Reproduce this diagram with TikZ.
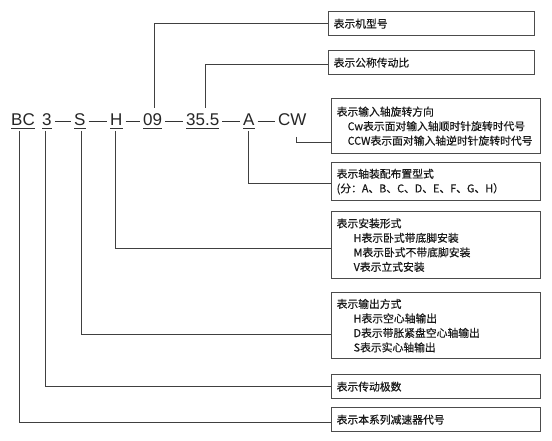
\documentclass[tikz,border=0pt]{standalone}
\usepackage{fontspec}
\setmainfont{Liberation Sans}
\newfontfamily\cjk[FakeBold=0.35]{Noto Sans CJK SC}
\begin{document}
\begin{tikzpicture}[x=1pt,y=-1pt,
  code/.style={anchor=base west, inner sep=0pt, font=\fontsize{17}{17}\selectfont, text=black!85},
  box/.style={draw=black!70, line width=1.3pt, anchor=north west, inner xsep=5pt, inner ysep=0pt,
    align=left, font=\cjk\fontsize{10.8}{14.5}\selectfont, text=black!90},
  conn/.style={draw=black!75, line width=1pt},
  uline/.style={draw=black!80, line width=0.9pt},
  dashln/.style={draw=black!80, line width=1.2pt}]
\useasboundingbox[fill=white] (0,0) rectangle (552,441);

% code row
\node[code] (bc)   at (11,126)  {BC};
\node[code] (n3)   at (42,126)  {3};
\node[code] (s)    at (74,126)  {S};
\node[code] (h)    at (110,126) {H};
\node[code] (n09)  at (143,126) {09};
\node[code] (n355) at (186,126) {35.5};
\node[code] (a)    at (243,126) {A};
\node[code] (cw)   at (278,126) {CW};

\foreach \n in {bc,n3,s,h,n09,n355,a}
  \draw[uline] ([yshift=-2.5pt]\n.base west) -- ([yshift=-2.5pt]\n.base east);

\foreach \p/\q in {n3/s,s/h,h/n09,n09/n355,n355/a,a/cw}
  \draw[dashln] ([xshift=3pt,yshift=4.5pt]\p.base east) -- ([xshift=-3pt,yshift=4.5pt]\q.base west);

% boxes
\node[box, text width=196pt, minimum height=24pt] (b1) at (328,11) {表示机型号};
\node[box, text width=196pt, minimum height=24pt] (b2) at (328,50) {表示公称传动比};
\node[box, text width=199pt, minimum height=55pt] (b3) at (331,98)
  {表示输入轴旋转方向\\\hspace*{11pt}Cw表示面对输入轴顺时针旋转时代号\\\hspace*{11pt}CCW表示面对输入轴逆时针旋转时代号};
\node[box, text width=199pt, minimum height=38pt] (b4) at (331,162)
  {表示轴装配布置型式\\(分：A、B、C、D、E、F、G、H）};
\node[box, text width=199pt, minimum height=67pt] (b5) at (331,211)
  {表示安装形式\\\hspace*{17pt}H表示卧式带底脚安装\\\hspace*{17pt}M表示卧式不带底脚安装\\\hspace*{17pt}V表示立式安装};
\node[box, text width=199pt, minimum height=66pt] (b6) at (331,292)
  {表示输出方式\\\hspace*{17pt}H表示空心轴输出\\\hspace*{17pt}D表示带胀紧盘空心轴输出\\\hspace*{17pt}S表示实心轴输出};
\node[box, text width=199pt, minimum height=24pt] (b7) at (331,374) {表示传动极数};
\node[box, text width=199pt, minimum height=24pt] (b8) at (331,407) {表示本系列减速器代号};

% connectors
\draw[conn] ([xshift=2pt,yshift=6pt]n09.north) |- (b1.west);
\draw[conn] ([xshift=3pt,yshift=6pt]n355.north) |- ([yshift=-2pt]b2.west);
\draw[conn] ([xshift=4pt,yshift=-11pt]cw.base) |- ([yshift=-16.5pt]b3.west);
\draw[conn] ([yshift=-5pt]a.base) |- ([yshift=-2pt]b4.west);
\draw[conn] ([xshift=-1pt,yshift=-5pt]h.base) |- ([yshift=-3.5pt]b5.west);
\draw[conn] ([xshift=2pt,yshift=-5pt]s.base) |- ([yshift=-8.5pt]b6.west);
\draw[conn] ([xshift=-1pt,yshift=-5pt]n3.base) |- (b7.west);
\draw[conn] ([xshift=-4pt,yshift=-5pt]bc.base) |- ([yshift=-3pt]b8.west);
\end{tikzpicture}
\end{document}
